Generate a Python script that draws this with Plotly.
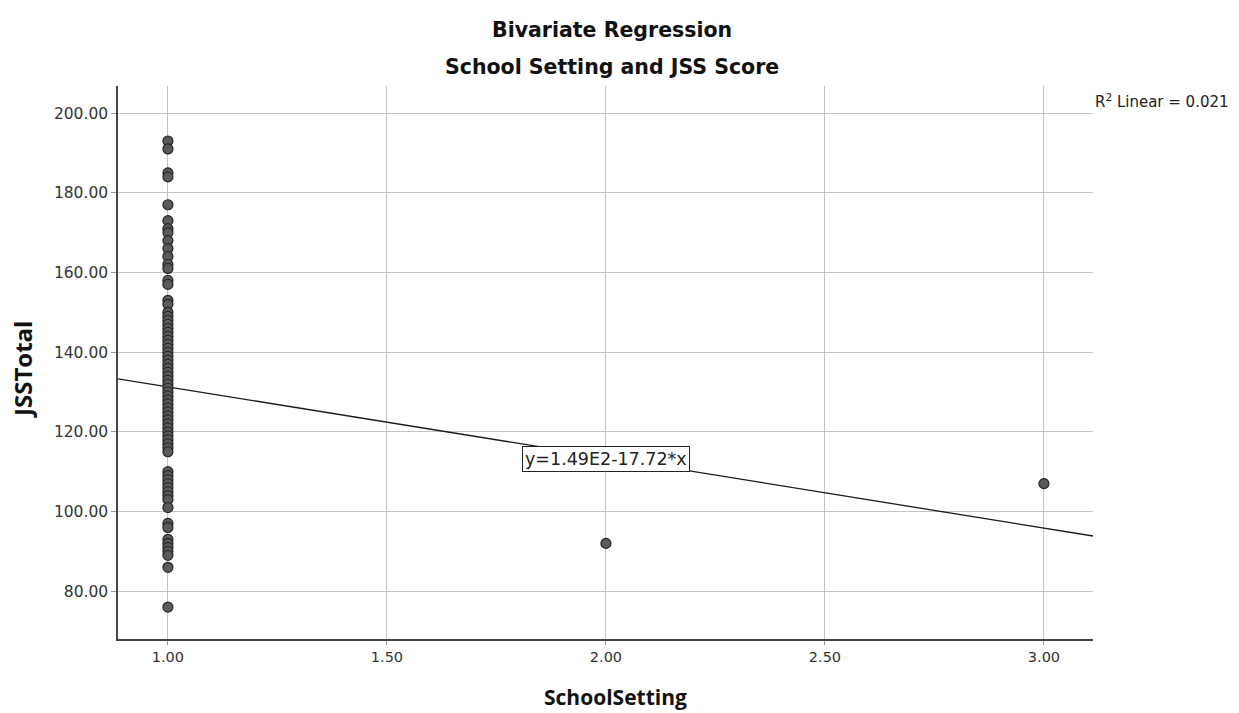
import plotly.graph_objects as go

# ---- data ----
jss_setting_1 = [193, 191, 185, 184, 177, 173, 171, 170, 168, 166, 164, 162, 161, 158, 157,
                 153, 152, 150, 149, 148, 147, 146, 145, 144, 143, 142, 141, 140, 139, 138,
                 137, 136, 135, 134, 133, 132, 131, 130, 129, 128, 127, 126, 125, 124, 123,
                 122, 121, 120, 119, 118, 117, 116, 115, 110, 109, 108, 107, 106, 105, 104,
                 103, 101, 97, 96, 93, 92, 91, 90, 89, 86, 76]
school_setting_1 = [1] * len(jss_setting_1)
school_setting_other = [2, 3]
jss_other = [92, 107]

intercept = 149.0
slope = -17.72
r2_text = "R<sup>2</sup> Linear = 0.021"
equation_text = "y=1.49E2-17.72*x"

x_range = [0.886, 3.112]
y_range = [68.0, 206.8]
x_ticks = [1.0, 1.5, 2.0, 2.5, 3.0]
y_ticks = [80, 100, 120, 140, 160, 180, 200]

xs = list(school_setting_1) + school_setting_other
ys = list(jss_setting_1) + jss_other

fit_x = x_range
fit_y = [intercept + slope * v for v in fit_x]

# plot area in pixels (for placing paper-referenced text)
PL, PR, PT, PB = 118, 1093, 86, 639
PW, PH = PR - PL, PB - PT


def px(xpix):
    return (xpix - PL) / PW


def py(ypix):
    return (PB - ypix) / PH


fig = go.Figure()
fig.add_trace(go.Scatter(x=fit_x, y=fit_y, mode="lines",
                         line=dict(color="#1a1a1a", width=1.3),
                         hoverinfo="skip", showlegend=False))
fig.add_trace(go.Scatter(x=xs, y=ys, mode="markers",
                         marker=dict(size=10, color="#5a5a5a",
                                     line=dict(color="#262626", width=1.2)),
                         showlegend=False))

fig.update_xaxes(range=x_range, tickvals=x_ticks,
                 ticktext=[f"{v:.2f}" for v in x_ticks],
                 showgrid=True, gridcolor="#c4c4c4", gridwidth=1,
                 zeroline=False, showline=True, linecolor="#444444", linewidth=1.5,
                 ticks="outside", ticklen=4, tickcolor="#999999",
                 tickfont=dict(family="DejaVu Sans", size=14.5, color="#333333"))
fig.update_yaxes(range=y_range, tickvals=y_ticks,
                 ticktext=[f"{v:.2f}" for v in y_ticks],
                 showgrid=True, gridcolor="#c4c4c4", gridwidth=1,
                 zeroline=False, showline=True, linecolor="#444444", linewidth=1.5,
                 ticks="outside", ticklen=5, tickcolor="#999999",
                 tickfont=dict(family="DejaVu Sans", size=15.5, color="#333333"))

title_font = dict(family="DejaVu Sans", size=20.5, color="#111111")

annotations = [
    dict(text="<b>Bivariate Regression</b>", xref="paper", yref="paper",
         x=px(612), y=py(30), xanchor="center", yanchor="middle",
         showarrow=False, font=title_font),
    dict(text="<b>School Setting and JSS Score</b>", xref="paper", yref="paper",
         x=px(612), y=py(67), xanchor="center", yanchor="middle",
         showarrow=False, font=title_font),
    dict(text="<b>SchoolSetting</b>", xref="paper", yref="paper",
         x=px(615), y=py(697), xanchor="center", yanchor="middle",
         showarrow=False, font=dict(family="Open Sans", size=21, color="#111111")),
    dict(text="<b>JSSTotal</b>", xref="paper", yref="paper",
         x=px(22), y=py(370), xanchor="center", yanchor="middle",
         textangle=-90, showarrow=False,
         font=dict(family="Open Sans", size=24, color="#111111")),
    dict(text=r2_text, xref="paper", yref="paper",
         x=px(1093), y=py(101), xanchor="left", yanchor="middle",
         showarrow=False, font=dict(family="DejaVu Sans", size=15, color="#222222")),
    dict(text=equation_text, x=2.0, y=113.2, xref="x", yref="y",
         xanchor="center", yanchor="middle", showarrow=False,
         bgcolor="white", bordercolor="#222222", borderwidth=1, borderpad=2,
         font=dict(family="DejaVu Sans", size=17.5, color="#222222")),
]

fig.update_layout(width=1239, height=713,
                  margin=dict(l=PL, r=1239 - PR, t=PT, b=713 - PB),
                  paper_bgcolor="white", plot_bgcolor="white",
                  annotations=annotations, showlegend=False)

fig.write_html("out.html")
